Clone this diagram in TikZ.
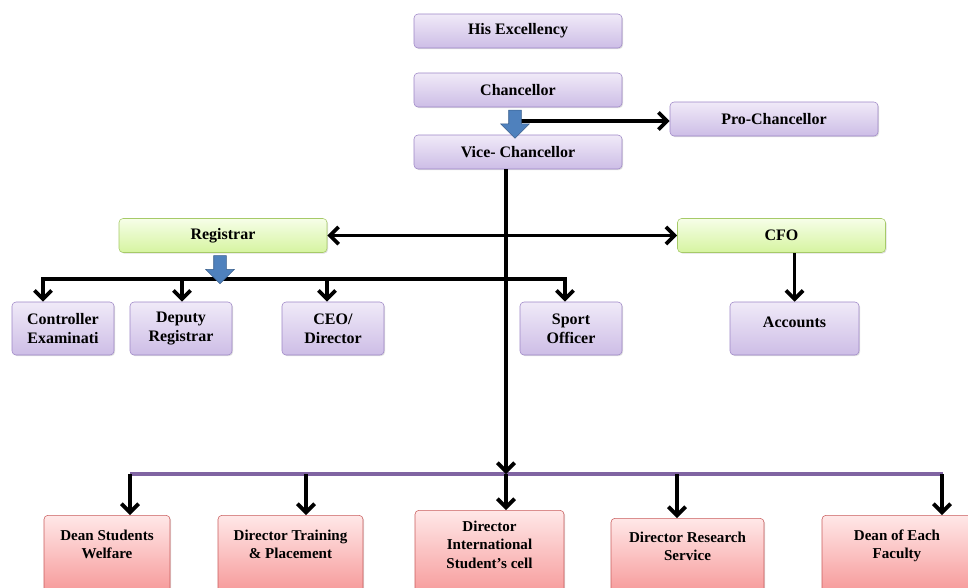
\documentclass[tikz,border=0pt]{standalone}
\usepackage{xcolor}
\usepackage{fontspec}
\setmainfont{Liberation Serif}
\usepackage{tikz}
\usetikzlibrary{positioning,calc,shapes.arrows,arrows.meta,shadows}

\definecolor{lilacTop}{HTML}{F0EAF8}
\definecolor{lilacBot}{HTML}{CDBDE6}
\definecolor{lilacEdge}{HTML}{9D86C6}
\definecolor{limeTop}{HTML}{F6FEE8}
\definecolor{limeBot}{HTML}{D6F4A0}
\definecolor{limeEdge}{HTML}{A6CA68}
\definecolor{roseTop}{HTML}{FFE8E8}
\definecolor{roseBot}{HTML}{F48484}
\definecolor{roseEdge}{HTML}{C95C5C}
\definecolor{arrowBlue}{HTML}{4F81BD}
\definecolor{arrowEdge}{HTML}{385D8A}
\definecolor{facPurple}{HTML}{8064A2}

\begin{document}
\begin{tikzpicture}[x=0.75pt,y=-0.75pt,
    box/.style={draw,rounded corners=3pt,align=center,inner sep=2pt,
        font=\bfseries\fontsize{12}{14}\selectfont,
        drop shadow={shadow xshift=0.8pt,shadow yshift=-0.8pt,opacity=0.25}},
    lilac/.style={box,draw=lilacEdge,top color=lilacTop,bottom color=lilacBot},
    lime/.style={box,draw=limeEdge,top color=limeTop,bottom color=limeBot},
    rose/.style={box,draw=roseEdge,top color=roseTop,bottom color=roseBot,
        font=\bfseries\fontsize{11.3}{13.8}\selectfont,
        anchor=north,inner ysep=11pt,text depth=30pt},
    wide/.style={minimum width=156pt,minimum height=25.5pt},
    small/.style={minimum width=76.5pt,minimum height=39.75pt},
    conn/.style={line width=2.8pt,-{Straight Barb[length=6.5pt,width=13pt]}},
    conn2/.style={line width=2.8pt,
        {Straight Barb[length=6.5pt,width=13pt]}-{Straight Barb[length=6.5pt,width=13pt]}},
    blockdown/.style={single arrow,draw=arrowEdge,fill=arrowBlue,rotate=-90,
        inner xsep=0pt,inner ysep=4.5pt,minimum width=21pt,minimum height=21pt,
        single arrow head extend=6pt}]
    \useasboundingbox (0,0) rectangle (968,587);
    \clip (0,0) rectangle (968,587);

    % top of the chart
    \node[lilac,wide] (His) at (518,31) {His Excellency};
    \node[lilac,wide] (Chan) at (518,90) {Chancellor};
    \node[lilac,wide] (VC) at (518,152) {Vice- Chancellor};
    \node[lilac,wide] (ProChan) at (774,119) {Pro-Chancellor};

    \coordinate (ChanTap) at (515,121);
    \draw[conn] (ChanTap) -- (ChanTap -| ProChan.west);
    \node[blockdown] (ChanArrow) at (ChanTap) {};

    % registrar side and cfo side
    \node[lime,wide] (Reg) at (223,235.5) {Registrar};
    \node[lime,wide] (CFO) at (781.5,235.5) {CFO};

    \node[lilac,small] (Ctrl) at (63,328.5) {Controller\\Examinati};
    \node[lilac,small] (Dep) at (181,328.5) {Deputy\\Registrar};
    \node[lilac,small] (CEO) at (333,328.5) {CEO/\\Director};
    \node[lilac,small] (Sport) at (571,328.5) {Sport\\Officer};
    \node[lilac,minimum width=96.75pt,minimum height=39.75pt,text depth=9pt] (Acc) at (794.5,328.5) {Accounts};

    \draw[conn2] (Reg.east) -- (CFO.west);
    \draw[conn] (CFO.south -| Acc.north) -- (Acc.north);

    \coordinate (RegBus) at (220,279);
    \foreach \n/\dx in {Ctrl/-20,Dep/1,CEO/-6,Sport/-6}
        \draw[conn] (RegBus) -| ($(\n.north)+(\dx,0)$);
    \node[blockdown] (RegArrow) at (220,266.5) {};

    % faculty row
    \node[rose,minimum width=94.5pt] (DSW) at (107,515) {Dean Students\\Welfare};
    \node[rose,minimum width=108.75pt] (DTP) at (290.5,515) {Director Training\\\& Placement};
    \node[rose,minimum width=111.75pt,inner ysep=8pt] (DIS) at (489.5,510) {Director\\International\\Student's cell};
    \node[rose,minimum width=114.75pt,inner ysep=10pt] (DRS) at (687.5,518) {Director Research\\Service};
    \node[rose,minimum width=112.5pt] (DEF) at (897,515) {Dean of Each\\Faculty};

    \coordinate (FacL) at (130,474);
    \coordinate (FacR) at (943,474);
    \draw[facPurple,line width=3.3pt] (FacL) -- (FacR);
    \foreach \n/\x in {DSW/130,DTP/306,DRS/677,DEF/942}
        \draw[conn] (\x,474) -- (\x,474 |- \n.north);

    \coordinate (Hub) at (506,474);
    \draw[conn] (VC.south -| Hub) -- (Hub);
    \draw[conn] (Hub) -- (Hub |- DIS.north);
\end{tikzpicture}
\end{document}
